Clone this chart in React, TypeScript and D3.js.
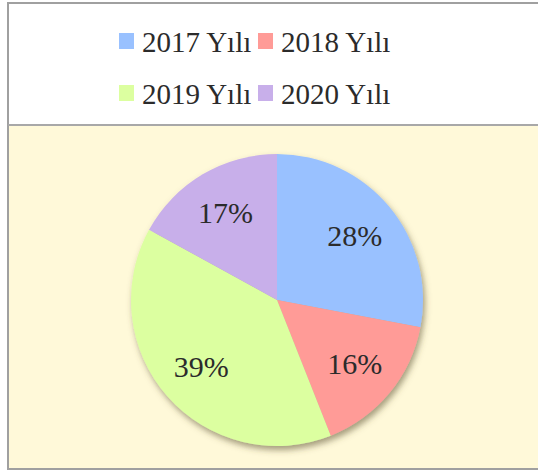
import React from "react";
import * as d3 from "d3";

const categories = ["2017 Yılı", "2018 Yılı", "2019 Yılı", "2020 Yılı"];
const values = [28, 16, 39, 17];
const colors = ["#99C1FF", "#FF9B97", "#DCFFA0", "#C8AFEA"];

const W = 538;
const H = 470;
const FONT = "'Liberation Serif', 'DejaVu Serif', serif";

export default function App() {
  const cx = 277;
  const cy = 300;
  const r = 146;
  const pie = d3.pie<number>().sort(null).value((d) => d);
  const arcs = pie(values);
  const arc = d3.arc<d3.PieArcDatum<number>>().innerRadius(0).outerRadius(r);
  const labelArc = d3
    .arc<d3.PieArcDatum<number>>()
    .innerRadius(101)
    .outerRadius(101);
  const total = d3.sum(values);

  const legendX = [119, 258];
  const legendY = [33, 85];

  return (
    <svg
      width={W}
      height={H}
      style={{ position: "absolute", left: 0, top: 0 }}
      xmlns="http://www.w3.org/2000/svg"
    >
      <defs>
        <filter id="sh" x="-20%" y="-20%" width="150%" height="150%">
          <feGaussianBlur in="SourceAlpha" stdDeviation="3" />
          <feOffset dx="2" dy="4" result="ob" />
          <feFlood floodColor="#5a5030" floodOpacity="0.55" />
          <feComposite in2="ob" operator="in" />
          <feMerge>
            <feMergeNode />
            <feMergeNode in="SourceGraphic" />
          </feMerge>
        </filter>
      </defs>
      <rect x={0} y={0} width={W} height={H} fill="#ffffff" />
      <rect x={8} y={125} width={W - 8} height={343} fill="#FFF9D9" />
      {/* borders */}
      <line x1={8} y1={3} x2={W} y2={3} stroke="#A0A0A0" strokeWidth={2} />
      <line x1={8} y1={2} x2={8} y2={470} stroke="#A0A0A0" strokeWidth={2} />
      <line x1={8} y1={125} x2={W} y2={125} stroke="#A8A8A8" strokeWidth={2} />
      <line x1={8} y1={469} x2={W} y2={469} stroke="#A0A0A0" strokeWidth={2} />

      {/* legend */}
      {categories.map((c, i) => {
        const x = legendX[i % 2];
        const y = legendY[Math.floor(i / 2)];
        return (
          <g key={c}>
            <rect x={x} y={y} width={15} height={16} fill={colors[i]} />
            <text
              x={x + 23}
              y={y + 19}
              fontFamily={FONT}
              fontSize={29}
              fill="#2b2b2b"
            >
              {c}
            </text>
          </g>
        );
      })}

      {/* pie */}
      <g transform={`translate(${cx},${cy})`}>
        <g filter="url(#sh)">
          {arcs.map((a, i) => (
            <path key={i} d={arc(a) || ""} fill={colors[i]} />
          ))}
        </g>
        {arcs.map((a, i) => {
          const [lx, ly] = labelArc.centroid(a);
          return (
            <text
              key={"l" + i}
              x={lx}
              y={ly + 10}
              textAnchor="middle"
              fontFamily={FONT}
              fontSize={30}
              fill="#2b2b2b"
            >
              {Math.round((values[i] / total) * 100)}%
            </text>
          );
        })}
      </g>
    </svg>
  );
}
